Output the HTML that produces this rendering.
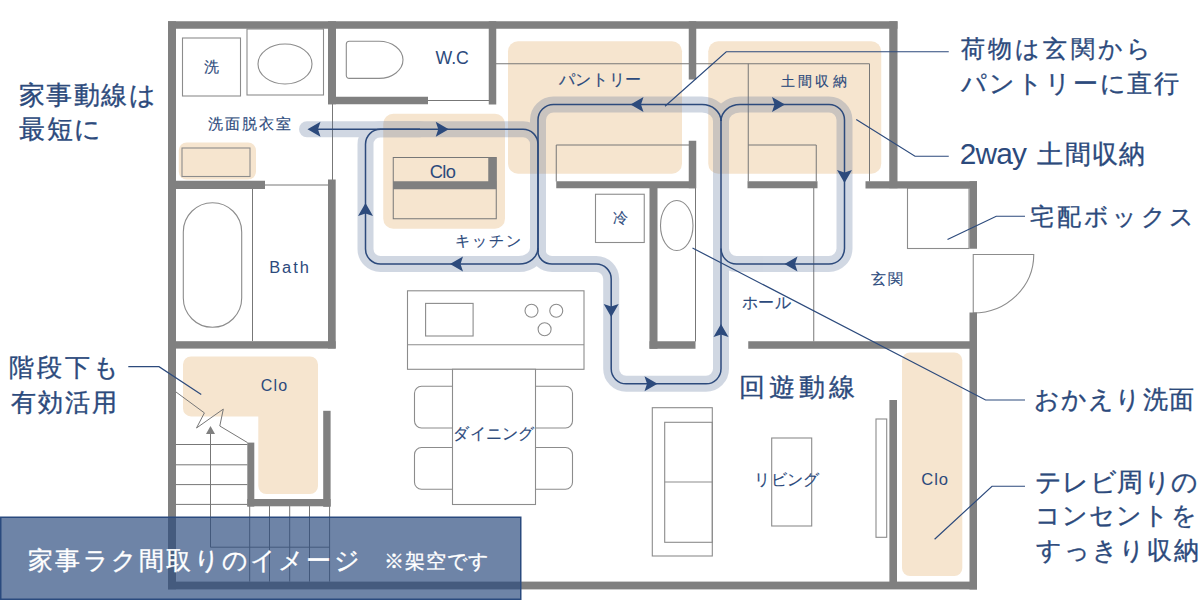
<!DOCTYPE html>
<html><head><meta charset="utf-8">
<style>
html,body{margin:0;padding:0;background:#fff;width:1200px;height:600px;overflow:hidden}
svg{display:block}
text{font-family:"Liberation Sans",sans-serif}
</style></head>
<body>
<svg width="1200" height="600" viewBox="0 0 1200 600">
<!-- orange storage areas -->
<g fill="#f6e5cf">
<rect x="178.75" y="142.5" width="77.25" height="37" rx="8"/>
<rect x="383.25" y="113.75" width="121.75" height="115" rx="10"/>
<rect x="508" y="41.25" width="174" height="132.5" rx="10"/>
<rect x="708.25" y="41.25" width="173" height="132.5" rx="10"/>
<path d="M191 356.5 H310 A8 8 0 0 1 318 364.5 V486 A8 8 0 0 1 310 494 H266.3 A8 8 0 0 1 258.3 486 V416.4 H191 A8 8 0 0 1 183 408.4 V364.5 A8 8 0 0 1 191 356.5 Z"/>
<rect x="902" y="352.5" width="60.3" height="223.5" rx="8"/>
</g>

<!-- thin furniture lines -->
<g fill="none" stroke="#8c8c8c" stroke-width="1.1">
<rect x="182.5" y="38" width="58" height="58"/>
<rect x="247" y="29" width="76.5" height="66"/>
<ellipse cx="285" cy="64" rx="27" ry="20"/>
<path d="M349.3 41.3 H379 A24 18.55 0 0 1 379 78.4 H349.3 A3 3 0 0 1 346.3 75.4 V44.3 A3 3 0 0 1 349.3 41.3 Z"/>
<rect x="182" y="148" width="68" height="28.5"/>
<rect x="183.3" y="202.7" width="58.4" height="124.6" rx="29.2"/>
<rect x="595.5" y="194.25" width="48.75" height="48.25"/>
<ellipse cx="676.75" cy="225.5" rx="16.25" ry="25"/>
<rect x="907.5" y="188" width="61.5" height="60.5"/>
<rect x="407.5" y="290.8" width="176.5" height="78.5"/>
<line x1="407.5" y1="344.8" x2="584" y2="344.8"/>
<rect x="425.6" y="303.4" width="47.5" height="32.6"/>
<circle cx="531.5" cy="310.7" r="6.5"/>
<circle cx="556.25" cy="310.7" r="6.5"/>
<circle cx="544.6" cy="329.3" r="6.5"/>
<rect x="414.5" y="386.25" width="45" height="41.75" rx="7"/>
<rect x="414.5" y="447.5" width="45" height="41.75" rx="7"/>
<rect x="528" y="386.25" width="44.5" height="41.75" rx="7"/>
<rect x="528" y="447.5" width="44.5" height="41.75" rx="7"/>
<rect x="452.5" y="369.25" width="83" height="135.25" fill="#fff"/>
<rect x="652.3" y="407.7" width="60" height="148.3"/>
<rect x="664.7" y="422.3" width="47.6" height="120"/>
<line x1="664.7" y1="482" x2="712.3" y2="482"/>
<rect x="771.7" y="438" width="40" height="88"/>
<rect x="876" y="419" width="10.7" height="118.3"/>
<!-- door -->
<path d="M973.25 313 V254.5 H1033.75 A60.5 58.5 0 0 1 973.25 313"/>
</g>

<g fill="none" stroke="#777" stroke-width="1">
<line x1="496" y1="63.75" x2="689" y2="63.75"/>
<line x1="696" y1="63.75" x2="869.5" y2="63.75"/>
<line x1="428" y1="100.5" x2="489" y2="100.5"/>
<line x1="332.5" y1="104" x2="332.5" y2="180"/>
<line x1="265" y1="185" x2="328" y2="185"/>
<line x1="748.25" y1="63.75" x2="748.25" y2="181.5"/>
<line x1="869.5" y1="63.75" x2="869.5" y2="181.5"/>
<polyline points="748.25,145 816.25,145 816.25,181.5"/>
<polyline points="556.25,181.5 556.25,145 689,145"/>
<rect x="393.25" y="157.5" width="103" height="61.25"/>
<line x1="252.5" y1="189" x2="252.5" y2="341"/>
<line x1="695.5" y1="188" x2="695.5" y2="341.5"/>
<line x1="813.75" y1="188" x2="813.75" y2="341.5"/>
<!-- stairs -->
<line x1="176" y1="444.5" x2="247.5" y2="444.5"/>
<line x1="176" y1="464.8" x2="247.5" y2="464.8"/>
<line x1="176" y1="484.6" x2="247.5" y2="484.6"/>
<line x1="176" y1="504.4" x2="247.5" y2="504.4"/>
<line x1="249.7" y1="506" x2="249.7" y2="581.7"/>
<line x1="269.5" y1="506" x2="269.5" y2="581.7"/>
<line x1="289.7" y1="506" x2="289.7" y2="581.7"/>
<line x1="309.5" y1="506" x2="309.5" y2="581.7"/>
<line x1="329.6" y1="506" x2="329.6" y2="581.7"/>
<line x1="210.5" y1="433" x2="210.5" y2="547.2"/>
<line x1="210.5" y1="547.2" x2="329.6" y2="547.2"/>
<polyline points="176,392 204.4,412.9 196.5,428 223.3,409.1 219.8,426 247.5,442.6"/>
</g>
<path d="M210.5 426 L215 434 L206 434 Z" fill="#808080"/>

<!-- walls -->
<g fill="#808080">
<rect x="168" y="21.25" width="729.5" height="7.5"/>
<rect x="168" y="21.25" width="8" height="568"/>
<rect x="168" y="581.6" width="809" height="7.8"/>
<rect x="889.25" y="21.25" width="8.25" height="167"/>
<rect x="865.5" y="181.25" width="111.5" height="7.25"/>
<rect x="969.5" y="181.25" width="7.5" height="67.5"/>
<rect x="969.5" y="312.5" width="7.5" height="277"/>
<rect x="328" y="21.25" width="8" height="83"/>
<rect x="328" y="96.75" width="100" height="7.5"/>
<rect x="488.75" y="21.25" width="7.5" height="83.25"/>
<rect x="688.75" y="21.25" width="7.5" height="58.25"/>
<rect x="688.75" y="140.75" width="7.5" height="47.5"/>
<rect x="556.25" y="181.25" width="139.25" height="7"/>
<rect x="747.5" y="181.25" width="70" height="7"/>
<rect x="649.5" y="188" width="8" height="160.75"/>
<rect x="649.5" y="341.25" width="46" height="7.5"/>
<rect x="748.25" y="341.25" width="228.75" height="7.5"/>
<rect x="168" y="180.75" width="97" height="8.25"/>
<rect x="328" y="179.5" width="7.7" height="169"/>
<rect x="168" y="341.2" width="167.7" height="7.4"/>
<rect x="393" y="181.25" width="103.25" height="8"/>
<rect x="488.25" y="157.5" width="8" height="31.5"/>
<rect x="247.3" y="442.6" width="7" height="64"/>
<rect x="323.2" y="410.8" width="7.4" height="96"/>
<rect x="247.3" y="499" width="83.3" height="7.3"/>
<rect x="889.4" y="400" width="7.6" height="189"/>
</g>

<!-- circulation path band -->
<g opacity="0.26" fill="none" stroke="#4f6894" stroke-width="16" stroke-linecap="round" stroke-linejoin="round">
<path d="M307 129.25 H523 A15 15 0 0 1 538 144.25 V252"/>
<path d="M538 248 A19 16 0 0 1 519 264 H380.5 A15 15 0 0 1 365.5 249 V144.25 A15 15 0 0 1 380.5 129.25 H420"/>
<path d="M538 251.5 A14 12.5 0 0 0 552 264 H596.2 A15 15 0 0 1 611.2 279 V368.8 A15 15 0 0 0 626.2 383.8 H706 A15 15 0 0 0 721 368.8 V120"/>
<path d="M721 121 A19 16.5 0 0 0 702 104.5 H553.5 A15.5 15.5 0 0 0 538 120 V252"/>
<path d="M721 121 A19 16.5 0 0 1 740 104.5 H829 A15.5 15.5 0 0 1 844.5 120 V248.5 A15.5 15.5 0 0 1 829 264 H736.5 A15.5 15.5 0 0 1 721 248.5"/>
</g>
<!-- circulation path line -->
<g fill="none" stroke="#2c4a7c" stroke-width="1.5">
<path d="M312 129.25 H523 A15 15 0 0 1 538 144.25 V252"/>
<path d="M538 248 A19 16 0 0 1 519 264 H380.5 A15 15 0 0 1 365.5 249 V144.25 A15 15 0 0 1 380.5 129.25 H420"/>
<path d="M538 251.5 A14 12.5 0 0 0 552 264 H596.2 A15 15 0 0 1 611.2 279 V368.8 A15 15 0 0 0 626.2 383.8 H706 A15 15 0 0 0 721 368.8 V120"/>
<path d="M721 121 A19 16.5 0 0 0 702 104.5 H553.5 A15.5 15.5 0 0 0 538 120 V252"/>
<path d="M721 121 A19 16.5 0 0 1 740 104.5 H829 A15.5 15.5 0 0 1 844.5 120 V248.5 A15.5 15.5 0 0 1 829 264 H736.5 A15.5 15.5 0 0 1 721 248.5"/>
</g>
<g fill="#2c4a7c">
<path d="M0 0 L-13 -7.5 L-10.5 0 L-13 7.5 Z" transform="translate(307.5 129.25) rotate(180)"/>
<path d="M0 0 L-13 -7.5 L-10.5 0 L-13 7.5 Z" transform="translate(448.75 129.25)"/>
<path d="M0 0 L-13 -7.5 L-10.5 0 L-13 7.5 Z" transform="translate(365.5 203) rotate(-90)"/>
<path d="M0 0 L-13 -7.5 L-10.5 0 L-13 7.5 Z" transform="translate(450 264) rotate(180)"/>
<path d="M0 0 L-13 -7.5 L-10.5 0 L-13 7.5 Z" transform="translate(630.5 104.5) rotate(180)"/>
<path d="M0 0 L-13 -7.5 L-10.5 0 L-13 7.5 Z" transform="translate(785 104.5)"/>
<path d="M0 0 L-13 -7.5 L-10.5 0 L-13 7.5 Z" transform="translate(844.5 183) rotate(90)"/>
<path d="M0 0 L-13 -7.5 L-10.5 0 L-13 7.5 Z" transform="translate(784.5 264) rotate(180)"/>
<path d="M0 0 L-13 -7.5 L-10.5 0 L-13 7.5 Z" transform="translate(611.2 317) rotate(90)"/>
<path d="M0 0 L-13 -7.5 L-10.5 0 L-13 7.5 Z" transform="translate(657.5 383.8)"/>
<path d="M0 0 L-13 -7.5 L-10.5 0 L-13 7.5 Z" transform="translate(721 324) rotate(-90)"/>
</g>

<!-- callout lines -->
<g fill="none" stroke="#2c4a7c" stroke-width="1.2">
<polyline points="665,106.25 726.25,51.75 948.75,51.75"/>
<polyline points="856.25,119.5 915,156.25 948.75,156.25"/>
<polyline points="947.5,239.5 996.25,216.25 1025,216.25"/>
<polyline points="692.5,248 985.6,400 1025,400"/>
<polyline points="934.6,539.3 992,486.25 1025,486.25"/>
<polyline points="128.3,366.7 159,366.7 201.25,394.4"/>
</g>

<!-- labels -->
<g fill="#2c4a7c" stroke="#2c4a7c" stroke-width="0.35" dominant-baseline="central">
<text stroke-width="0.15" x="211.60" y="66.13" font-size="15.07" text-anchor="middle">洗</text>
<text stroke-width="0.15" x="207.80" y="123.00" font-size="15.16" textLength="83.40" lengthAdjust="spacing">洗面脱衣室</text>
<text stroke="none" x="435.60" y="57.90" font-size="17.69" textLength="33.20" lengthAdjust="spacing">W.C</text>
<text stroke-width="0.15" x="558.70" y="79.80" font-size="15.60" textLength="82.70" lengthAdjust="spacing">パントリー</text>
<text stroke-width="0.15" x="780.70" y="80.85" font-size="14.07" textLength="65.95" lengthAdjust="spacing">土間収納</text>
<text stroke="none" x="442.87" y="171.05" font-size="18.28" text-anchor="middle" textLength="26.30" lengthAdjust="spacing">Clo</text>
<text stroke-width="0.15" x="455.25" y="240.90" font-size="15.30" textLength="65.45" lengthAdjust="spacing">キッチン</text>
<text stroke-width="0.15" x="620.95" y="217.45" font-size="15.07" text-anchor="middle">冷</text>
<text stroke="none" x="289.00" y="266.50" font-size="16.45" text-anchor="middle" textLength="39.60" lengthAdjust="spacing">Bath</text>
<text stroke-width="0.15" x="741.90" y="302.30" font-size="16.14" textLength="48.75" lengthAdjust="spacing">ホール</text>
<text stroke-width="0.15" x="871.30" y="278.70" font-size="14.67" textLength="31.30" lengthAdjust="spacing">玄関</text>
<text stroke="none" x="274.00" y="385.20" font-size="16.00" text-anchor="middle" textLength="26.50" lengthAdjust="spacing">Clo</text>
<text stroke-width="0.15" x="453.45" y="433.00" font-size="15.56" textLength="80.55" lengthAdjust="spacing">ダイニング</text>
<text stroke-width="0.15" x="754.25" y="479.00" font-size="15.82" textLength="65.15" lengthAdjust="spacing">リビング</text>
<text stroke="none" x="934.60" y="479.35" font-size="16.59" text-anchor="middle" textLength="26.60" lengthAdjust="spacing">Clo</text>
<text x="739.40" y="387.10" font-size="25.83" textLength="115.20" lengthAdjust="spacing">回遊動線</text>

<text x="19.00" y="94.95" font-size="25.69" textLength="136.60" lengthAdjust="spacing">家事動線は</text>
<text x="19.40" y="128.65" font-size="25.58" textLength="82.00" lengthAdjust="spacing">最短に</text>
<text x="9.05" y="367.52" font-size="24.77" textLength="109.45" lengthAdjust="spacing">階段下も</text>
<text x="10.60" y="401.71" font-size="24.92" textLength="105.95" lengthAdjust="spacing">有効活用</text>
<text x="960.75" y="49.30" font-size="23.68" textLength="190.35" lengthAdjust="spacing">荷物は玄関から</text>
<text x="960.75" y="83.20" font-size="24.61" textLength="218.65" lengthAdjust="spacing">パントリーに直行</text>
<text stroke="none" x="959.75" y="153.80" font-size="29.85" textLength="67.20" lengthAdjust="spacing">2way</text>
<text x="1037.30" y="153.75" font-size="25.72" textLength="107.70" lengthAdjust="spacing">土間収納</text>
<text x="1030.00" y="216.00" font-size="23.81" textLength="163.75" lengthAdjust="spacing">宅配ボックス</text>
<text x="1033.50" y="399.35" font-size="24.51" textLength="160.60" lengthAdjust="spacing">おかえり洗面</text>
<text x="1034.70" y="482.00" font-size="26.42" textLength="163.40" lengthAdjust="spacing">テレビ周りの</text>
<text x="1035.30" y="515.30" font-size="24.53" textLength="161.20" lengthAdjust="spacing">コンセントを</text>
<text x="1035.70" y="550.30" font-size="24.90" textLength="163.60" lengthAdjust="spacing">すっきり収納</text>
</g>

<!-- banner -->
<rect x="0.75" y="517.25" width="520" height="82" fill="#2a4a7e" fill-opacity="0.68" stroke="#2a4a7e" stroke-width="1.5"/>
<g fill="#fff" stroke="#fff" stroke-width="0.35" dominant-baseline="central">
<text x="28.20" y="560.25" font-size="25.43" textLength="331.50" lengthAdjust="spacing">家事ラク間取りのイメージ</text>
<text x="384.35" y="560.26" font-size="20.47" textLength="103.75" lengthAdjust="spacing">※架空です</text>
</g>
</svg>
</body></html>
